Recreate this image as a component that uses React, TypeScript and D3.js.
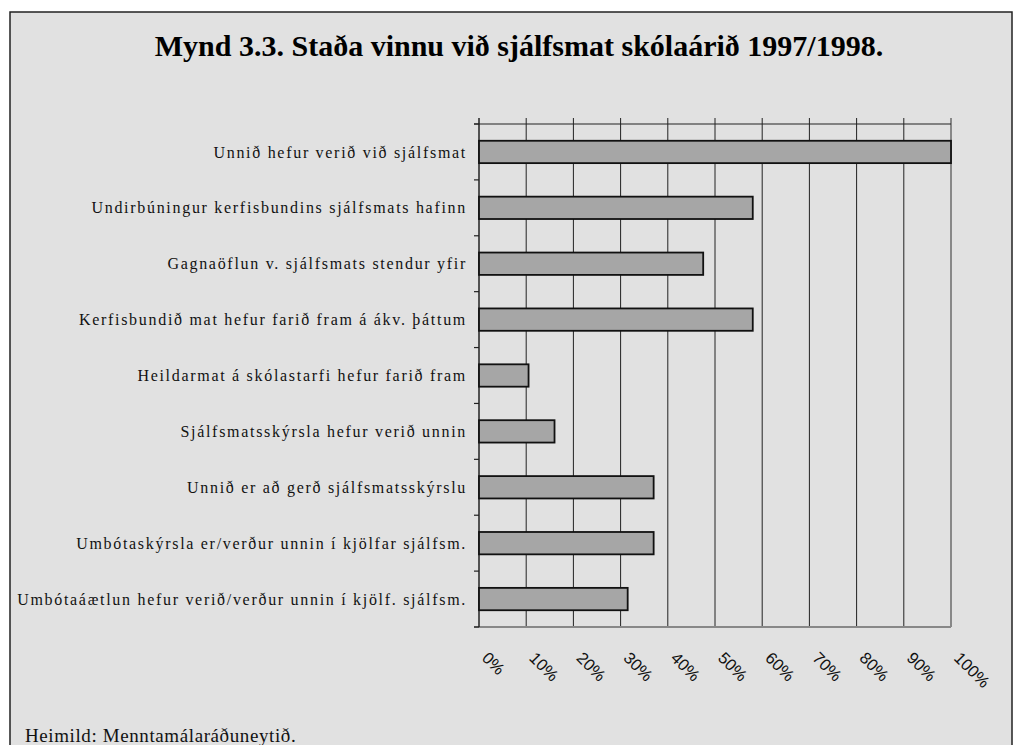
import * as d3 from 'd3'
import { useEffect, useRef } from 'react'

const categories = [
  'Unnið hefur verið við sjálfsmat',
  'Undirbúningur kerfisbundins sjálfsmats hafinn',
  'Gagnaöflun v. sjálfsmats stendur yfir',
  'Kerfisbundið mat hefur farið fram á ákv. þáttum',
  'Heildarmat á skólastarfi hefur farið fram',
  'Sjálfsmatsskýrsla hefur verið unnin',
  'Unnið er að gerð sjálfsmatsskýrslu',
  'Umbótaskýrsla er/verður unnin í kjölfar sjálfsm.',
  'Umbótaáætlun hefur verið/verður unnin í kjölf. sjálfsm.',
]
const values = [100, 58, 47.5, 58, 10.5, 16, 37, 37, 31.5]
const tickValues = [0, 10, 20, 30, 40, 50, 60, 70, 80, 90, 100]

const title = 'Mynd 3.3. Staða vinnu við sjálfsmat skólaárið 1997/1998.'
const source = 'Heimild: Menntamálaráðuneytið.'

const App = () => {
  const svgRef = useRef<SVGSVGElement>(null)

  useEffect(() => {
    const svg = d3.select(svgRef.current)
    svg.selectAll('*').remove()

    const plot = { left: 479, right: 951, top: 124, bottom: 627 }

    // frame
    svg.append('rect').attr('width', 1018).attr('height', 745).attr('fill', '#fff')
    svg
      .append('rect')
      .attr('x', 10)
      .attr('y', 12)
      .attr('width', 1002)
      .attr('height', 760)
      .attr('fill', '#e1e1e1')
      .attr('stroke', '#222')
      .attr('stroke-width', 1.5)

    svg
      .append('text')
      .attr('x', 519)
      .attr('y', 56)
      .attr('text-anchor', 'middle')
      .attr('font-family', '"Liberation Serif", "Times New Roman", serif')
      .attr('font-weight', 'bold')
      .attr('font-size', 30)
      .text(title)

    const x = d3.scaleLinear().domain([0, 100]).range([plot.left, plot.right])
    const y = d3
      .scaleBand()
      .domain(categories)
      .range([plot.top, plot.bottom])
      .paddingInner(0.6)
      .paddingOuter(0.3)
    const step = y.step()

    // gridlines
    svg
      .selectAll('.grid')
      .data(tickValues.slice(1))
      .enter()
      .append('line')
      .attr('x1', (d) => x(d))
      .attr('x2', (d) => x(d))
      .attr('y1', plot.top - 6)
      .attr('y2', plot.bottom)
      .attr('stroke', (d) => (d === 100 ? '#888' : '#222'))
      .attr('stroke-width', (d) => (d === 100 ? 2 : 1))

    // top line
    svg
      .append('line')
      .attr('x1', plot.left - 5)
      .attr('x2', plot.right)
      .attr('y1', plot.top)
      .attr('y2', plot.top)
      .attr('stroke', '#222')
      .attr('stroke-width', 1.2)

    // bottom axis line
    svg
      .append('line')
      .attr('x1', plot.left - 5)
      .attr('x2', plot.right)
      .attr('y1', plot.bottom)
      .attr('y2', plot.bottom)
      .attr('stroke', '#888')
      .attr('stroke-width', 2)

    // left axis with ticks at band edges
    svg
      .append('line')
      .attr('x1', plot.left)
      .attr('x2', plot.left)
      .attr('y1', plot.top - 6)
      .attr('y2', plot.bottom)
      .attr('stroke', '#222')
      .attr('stroke-width', 1.5)
    svg
      .selectAll('.ytick')
      .data(d3.range(categories.length + 1))
      .enter()
      .append('line')
      .attr('x1', plot.left - 5)
      .attr('x2', plot.left)
      .attr('y1', (i) => plot.top + i * step)
      .attr('y2', (i) => plot.top + i * step)
      .attr('stroke', '#222')
      .attr('stroke-width', 1.2)

    // bars
    svg
      .selectAll('.bar')
      .data(values)
      .enter()
      .append('rect')
      .attr('x', x(0))
      .attr('y', (d, i) => y(categories[i]))
      .attr('width', (d) => x(d) - x(0))
      .attr('height', y.bandwidth())
      .attr('fill', '#a6a6a6')
      .attr('stroke', '#111')
      .attr('stroke-width', 1.8)

    // category labels
    svg
      .selectAll('.cat')
      .data(categories)
      .enter()
      .append('text')
      .attr('x', 467)
      .attr('y', (d) => y(d) + y.bandwidth() / 2)
      .attr('dy', '0.35em')
      .attr('text-anchor', 'end')
      .attr('font-family', '"Liberation Serif", "Times New Roman", serif')
      .attr('font-size', 16)
      .attr('letter-spacing', 1.7)
      .attr('fill', '#111')
      .text((d) => d)

    // x tick labels, rotated
    svg
      .selectAll('.xlab')
      .data(tickValues)
      .enter()
      .append('text')
      .attr('transform', (d) => `translate(${x(d) + 2},${659}) rotate(45)`)
      .attr('font-family', '"Liberation Sans", Arial, sans-serif')
      .attr('font-size', 16.5)
      .attr('fill', '#111')
      .text((d) => `${d}%`)

    svg
      .append('text')
      .attr('x', 25)
      .attr('y', 742)
      .attr('font-family', '"Liberation Serif", "Times New Roman", serif')
      .attr('font-size', 19)
      .attr('letter-spacing', 0.6)
      .attr('fill', '#111')
      .text(source)
  }, [])

  return (
    <svg
      ref={svgRef}
      width={1018}
      height={745}
      style={{ position: 'absolute', left: 0, top: 0 }}
    ></svg>
  )
}

export default App
